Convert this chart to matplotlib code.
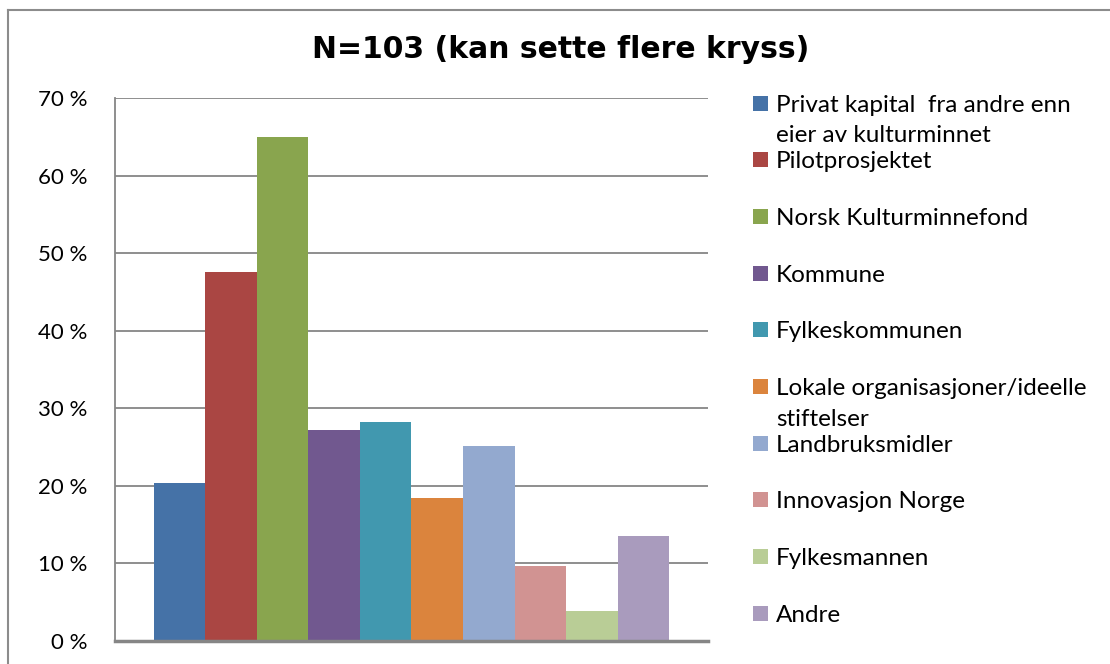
import numpy as np
import matplotlib
matplotlib.use("Agg")
import matplotlib.pyplot as plt
from matplotlib.lines import Line2D
from matplotlib.patches import Rectangle

## data
labels = ["Privat kapital  fra andre enn\neier av kulturminnet",
          "Pilotprosjektet",
          "Norsk Kulturminnefond",
          "Kommune",
          "Fylkeskommunen",
          "Lokale organisasjoner/ideelle\nstiftelser",
          "Landbruksmidler",
          "Innovasjon Norge",
          "Fylkesmannen",
          "Andre"]
values = [20.4, 47.6, 65.0, 27.2, 28.2, 18.4, 25.2, 9.7, 3.9, 13.6]  # percent
colors = ["#4572A7", "#AA4643", "#89A54E", "#71588F", "#4198AF",
          "#DB843D", "#93A9CF", "#D19392", "#B9CD96", "#A99BBD"]
yticks = [0, 10, 20, 30, 40, 50, 60, 70]
title = "N=103 (kan sette flere kryss)"

W, H = 1110, 664
fig = plt.figure(figsize=(W / 100, H / 100), dpi=100)

# plot area in pixels: left 115, right 708, top 98, bottom 641
ax = fig.add_axes([115 / W, (H - 641) / H, (708 - 115) / W, (641 - 98) / H])

x = np.arange(len(values))
ax.bar(x, values, width=1.0, color=colors, linewidth=0, zorder=2)
ax.set_xlim(-1.25, len(values) - 1 + 1.25)
ax.set_ylim(0, 70)

ax.set_yticks(yticks)
ax.set_yticklabels([f"{t} %" for t in yticks], fontfamily="Lato", fontsize=16)
ax.tick_params(axis="y", length=0, pad=20)
ax.set_xticks([])
ax.grid(axis="y", color="#868686", linewidth=1.3, zorder=0)

for s in ["top", "right"]:
    ax.spines[s].set_visible(False)
ax.spines["left"].set_color("#868686")
ax.spines["left"].set_linewidth(1.3)
ax.spines["bottom"].set_color("#868686")
ax.spines["bottom"].set_linewidth(2.5)

fig.text(561 / W, 1 - 49 / H, title, ha="center", va="center",
         fontfamily="DejaVu Sans", fontweight="bold", fontsize=21.5)

# legend, drawn by hand so wrapped labels overflow like the original
first_y, step, line_gap = 103, 56.7, 31
for i, (lab, c) in enumerate(zip(labels, colors)):
    yc = first_y + i * step
    fig.patches.append(Rectangle((753 / W, 1 - (yc + 7.5) / H), 15 / W, 15 / H,
                                 transform=fig.transFigure, facecolor=c,
                                 edgecolor="none"))
    for k, line in enumerate(lab.split("\n")):
        fig.text(776 / W, 1 - (yc + 2 + k * line_gap) / H, line, ha="left",
                 va="center", fontfamily="Lato", fontsize=17.5)

# outer chart border (only top and left edges are in frame)
fig.add_artist(Line2D([8 / W, 1], [1 - 10 / H, 1 - 10 / H], color="#8c8c8c",
                      linewidth=1.5, transform=fig.transFigure))
fig.add_artist(Line2D([8 / W, 8 / W], [1 - 10 / H, 0], color="#8c8c8c",
                      linewidth=1.5, transform=fig.transFigure))

fig.savefig("out.png", dpi=100)
